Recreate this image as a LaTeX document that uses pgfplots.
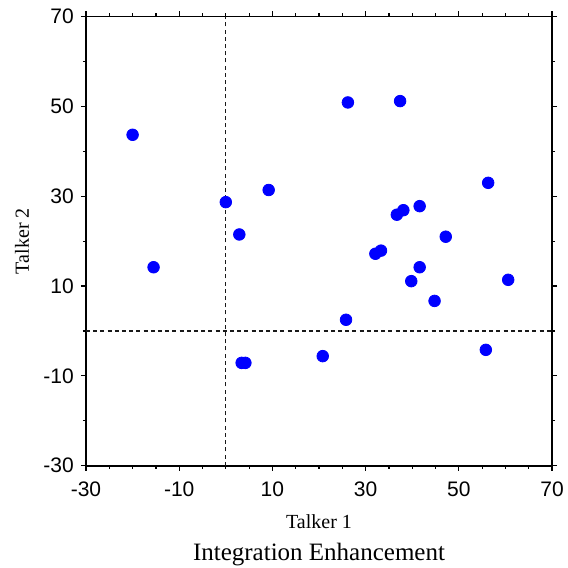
\documentclass[border=0pt]{standalone}
\usepackage{fontspec}
\setmainfont{Liberation Serif}
\newfontfamily\arialfont{Liberation Sans}
\usepackage{pgfplots}
\pgfplotsset{compat=1.18}
\begin{document}
\begin{tikzpicture}
\path[use as bounding box] (-43pt,-51.15pt) rectangle (241pt,232.85pt);
\begin{axis}[
  at={(0,0)}, anchor=south west,
  scale only axis, width=233pt, height=224.5pt,
  xmin=-30, xmax=70, ymin=-30, ymax=70,
  xtick={-30,-10,10,30,50,70},
  ytick={-30,-10,10,30,50,70},
  xticklabels={-30,-10,10,30,50,70},
  yticklabels={-30,-10,10,30,50,70},
  minor x tick num=3, minor y tick num=1,
  tick align=outside,
  major tick length=2.6pt, minor tick length=1.6pt,
  axis line style={line width=0.8pt},
  every tick/.style={black, line width=0.6pt},
  ticklabel style={font=\arialfont\fontsize{10.5}{12}\selectfont},
  xticklabel style={yshift=-2pt},
  clip=false,
]
% zero reference lines
\addplot[black!90, line width=0.65pt, dash pattern=on 2pt off 1.6pt] coordinates {(0,-30) (0,70)};
\addplot[black!90, line width=0.65pt, dash pattern=on 2pt off 1.6pt] coordinates {(-30,0) (70,0)};
% integration enhancement per listener
\addplot[only marks, mark=*, mark size=2.9pt, color=blue, mark options={fill=blue, draw=blue}] coordinates {
  (-20.0,43.7) (-15.5,14.2) (0.0,28.7) (2.9,21.5) (9.2,31.4)
  (3.4,-7.1) (4.2,-7.1) (20.8,-5.6) (26.2,50.9) (25.8,2.5)
  (37.4,51.2) (32.1,17.2) (33.3,17.9) (36.7,25.9) (38.1,26.9)
  (41.6,27.8) (41.6,14.2) (39.8,11.1) (47.2,21.0) (44.8,6.7)
  (56.3,33.0) (60.6,11.4) (55.8,-4.2)
};
\node[anchor=base, font=\fontsize{10}{12}\selectfont] at ([yshift=-31.15pt]rel axis cs:0.5,0) {Talker 1};
\node[anchor=base, font=\fontsize{12.5}{15}\selectfont] at ([yshift=-47.2pt]rel axis cs:0.5,0) {Integration Enhancement};
\node[rotate=90, anchor=center, font=\fontsize{10}{12}\selectfont] at ([xshift=-32pt]rel axis cs:0,0.5) {Talker 2};
\end{axis}
\end{tikzpicture}
\end{document}
